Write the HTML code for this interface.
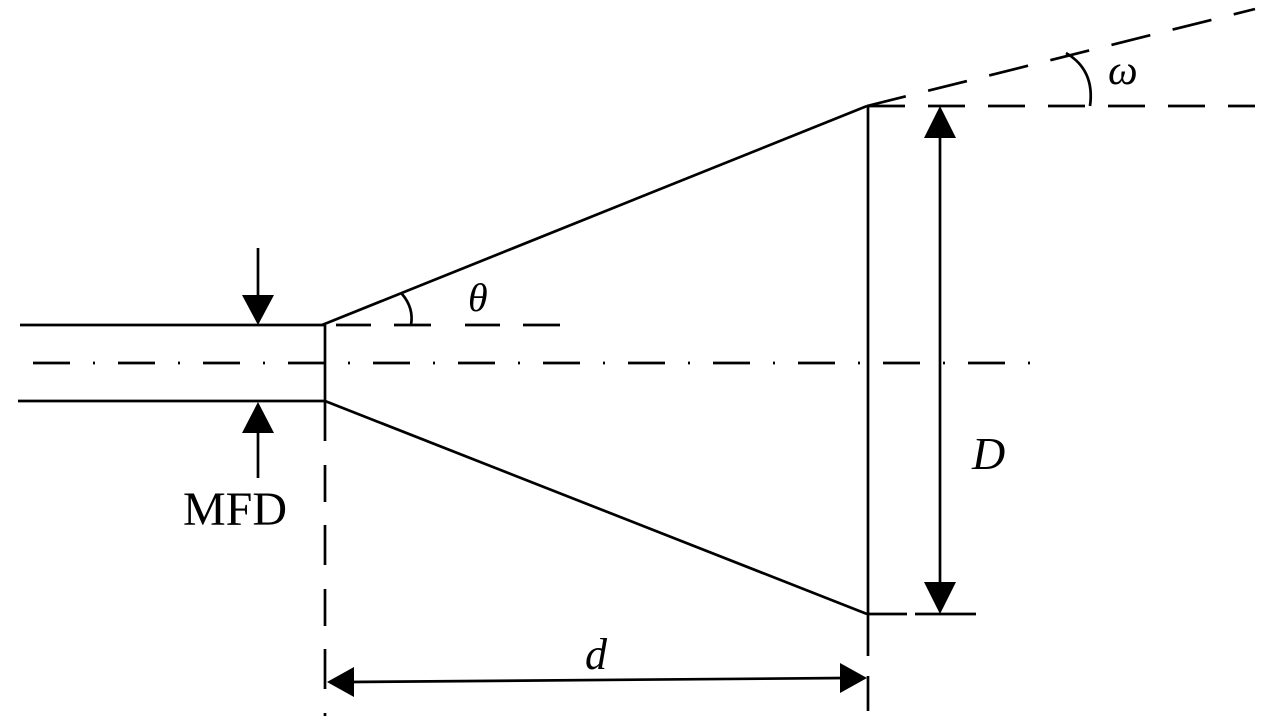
<!DOCTYPE html>
<html><head><style>html,body{margin:0;padding:0;background:#fff}svg{display:block}</style></head>
<body>
<svg width="1280" height="720" viewBox="0 0 1280 720" xmlns="http://www.w3.org/2000/svg" font-family="Liberation Serif, serif">
<g stroke="#000" stroke-width="2.7" fill="none" stroke-linecap="butt">
  <line x1="20" y1="325" x2="325" y2="325"/>
  <line x1="18" y1="401" x2="325" y2="401"/>
  <line x1="325" y1="325" x2="325" y2="401"/>
  <line x1="325" y1="401" x2="325" y2="716" stroke-dasharray="40 24 37 23"/>
  <line x1="322" y1="325" x2="867" y2="106"/>
  <line x1="325" y1="401" x2="867" y2="614"/>
  <line x1="868" y1="106" x2="868" y2="656"/>
  <line x1="868" y1="676" x2="868" y2="711"/>
  <line x1="33" y1="363" x2="1035" y2="363" stroke-dasharray="37 23 2 23"/>
  <line x1="325" y1="325" x2="580" y2="325" stroke-dasharray="0 11 35 23 37 23"/>
  <line x1="868" y1="106" x2="1255" y2="106" stroke-dasharray="37 23"/>
  <line x1="867" y1="106" x2="1255" y2="9" stroke-dasharray="40 23 40 23"/>
  <line x1="868" y1="614" x2="907" y2="614"/>
  <line x1="915" y1="614" x2="976" y2="614"/>
  <path d="M402 294 Q414 308 411 325"/>
  <path d="M1066 53 Q1095 70 1090 106"/>
  <line x1="258" y1="248" x2="258" y2="300"/>
  <line x1="258" y1="430" x2="258" y2="478"/>
  <line x1="940" y1="130" x2="940" y2="590"/>
  <line x1="350" y1="682" x2="845" y2="678"/>
</g>
<g fill="#000">
  <polygon points="242,295 274,295 258,325"/>
  <polygon points="242,433 274,433 258,402"/>
  <polygon points="924,138 956,138 940,106"/>
  <polygon points="924,582 956,582 940,614"/>
  <polygon points="327,682 354,667 354,697"/>
  <polygon points="867,678 840,663 840,693"/>
</g>
<g font-style="italic" fill="#000">
  <text x="468" y="311" font-size="40">θ</text>
  <text x="1108" y="84" font-size="42">ω</text>
  <text x="972" y="469" font-size="46">D</text>
  <text x="585" y="669" font-size="44">d</text>
</g>
<text x="183" y="525" font-size="48" fill="#000">MFD</text>
</svg>
</body></html>
